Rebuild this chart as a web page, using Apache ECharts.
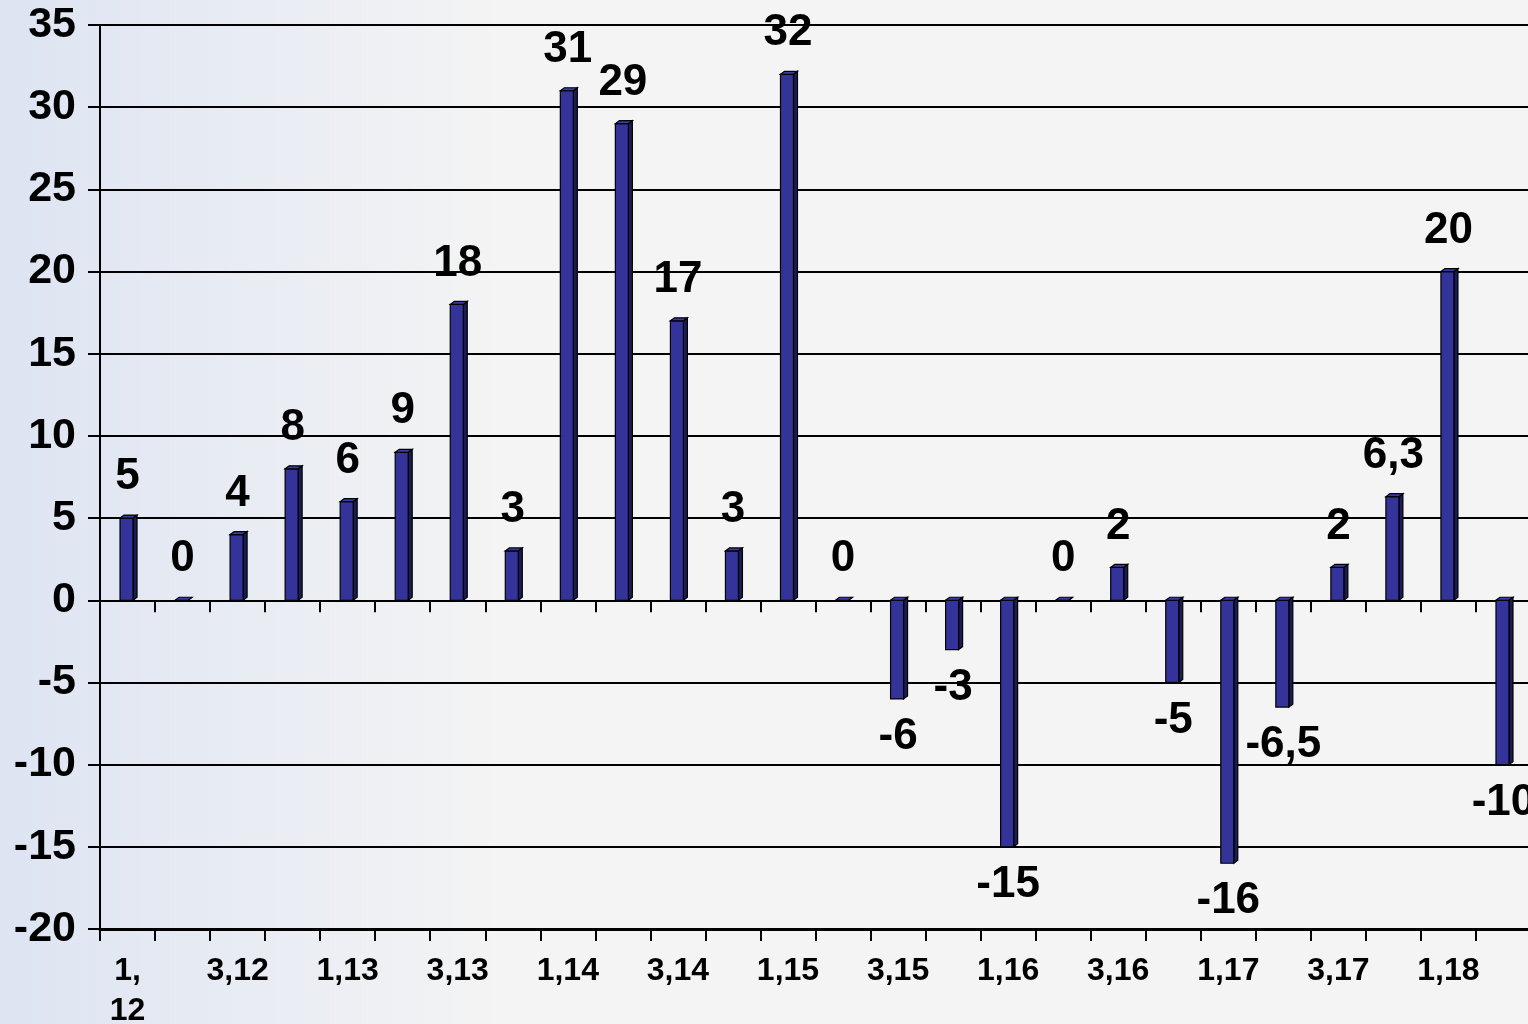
<!DOCTYPE html>
<html>
<head>
<meta charset="utf-8">
<script src="https://cdn.jsdelivr.net/npm/echarts@6/dist/echarts.min.js"></script>
<style>
html,body{margin:0;padding:0;width:1528px;height:1024px;overflow:hidden;}
#c{width:1528px;height:1024px;}
</style>
</head>
<body>
<div id="c"></div>
<script>
const categories = ["1,12","2,12","3,12","4,12","1,13","2,13","3,13","4,13","1,14","2,14","3,14","4,14","1,15","2,15","3,15","4,15","1,16","2,16","3,16","4,16","1,17","2,17","3,17","4,17","1,18","2,18"];
const values = [5,0,4,8,6,9,18,3,31,29,17,3,32,0,-6,-3,-15,0,2,-5,-16,-6.5,2,6.3,20,-10];
const yMin = -20, yMax = 35, yStep = 5;

const FONT = '"Liberation Sans", Arial, sans-serif';
const chart = echarts.init(document.getElementById('c'), null, {renderer:'canvas'});

function fmt(v){ return String(v).replace('.', ','); }

const option = {
  animation:false,
  backgroundColor: new echarts.graphic.LinearGradient(0,0,1,0,[
    {offset:0,color:'#dde4f2'},{offset:0.33,color:'#f4f4f4'},{offset:1,color:'#f4f4f4'}
  ]),
  grid:{left:100,right:-3,top:25,bottom:95,outerBoundsMode:'none',containLabel:false,show:true,borderColor:'#000',borderWidth:2,backgroundColor:'transparent'},
  xAxis:[{
    type:'category', data:categories, position:'bottom',
    axisLine:{onZero:false,lineStyle:{color:'#000',width:3}},
    axisTick:{show:true,length:12,lineStyle:{color:'#000',width:2},alignWithLabel:false,interval:0},
    axisLabel:{interval:1,margin:22,color:'#000',fontFamily:FONT,fontWeight:'bold',fontSize:32,lineHeight:40,
      formatter:(v,i)=> i===0 ? v.replace(',', ',\n') : v},
    splitLine:{show:false}
  },{
    type:'category', data:categories, position:'top',
    axisLine:{onZero:true,lineStyle:{color:'#000',width:2}},
    axisTick:{show:true,inside:true,length:12,lineStyle:{color:'#000',width:2},interval:0},
    axisLabel:{show:false},
    splitLine:{show:false}
  }],
  yAxis:{
    type:'value', min:yMin, max:yMax, interval:yStep,
    axisLine:{show:true,lineStyle:{color:'#000',width:2}},
    axisTick:{show:true,length:12,lineStyle:{color:'#000',width:2}},
    axisLabel:{margin:24,color:'#000',fontFamily:FONT,fontWeight:'bold',fontSize:43},
    splitLine:{show:true,lineStyle:{color:'#000',width:2}}
  },
  series:[{
    type:'custom',
    xAxisIndex:0,
    data: values.map((v,i)=>[i,v]),
    renderItem:function(params, api){
      const i = api.value(0), v = api.value(1);
      const p0 = api.coord([i,0]), p1 = api.coord([i,v]);
      const w = 13, d = 4, h = 3;
      const x = p0[0] - 7.5;
      const yTop = Math.min(p0[1],p1[1]), yBot = Math.max(p0[1],p1[1]);
      const stroke = {stroke:'#000',lineWidth:1.2};
      const children = [
        {type:'polygon',shape:{points:[[x+w,yTop],[x+w+d,yTop-h],[x+w+d,yBot-h],[x+w,yBot]]},style:Object.assign({fill:'#1c1c55'},stroke)},
        {type:'rect',shape:{x:x,y:yTop,width:w,height:Math.max(yBot-yTop,0)},style:Object.assign({fill:'#333399'},stroke)},
        {type:'polygon',shape:{points:[[x,yTop],[x+d,yTop-h],[x+w+d,yTop-h],[x+w,yTop]]},style:Object.assign({fill:'#3a3aa6'},stroke)},
        {type:'text',style:{text:fmt(v),x:p1[0],y: v>=0 ? yTop-41 : yBot+38,
          align:'center',verticalAlign:'middle',fill:'#000',font:'bold 44px '+FONT}}
      ];
      return {type:'group',children:children};
    }
  }]
};
chart.setOption(option);
</script>
</body>
</html>
